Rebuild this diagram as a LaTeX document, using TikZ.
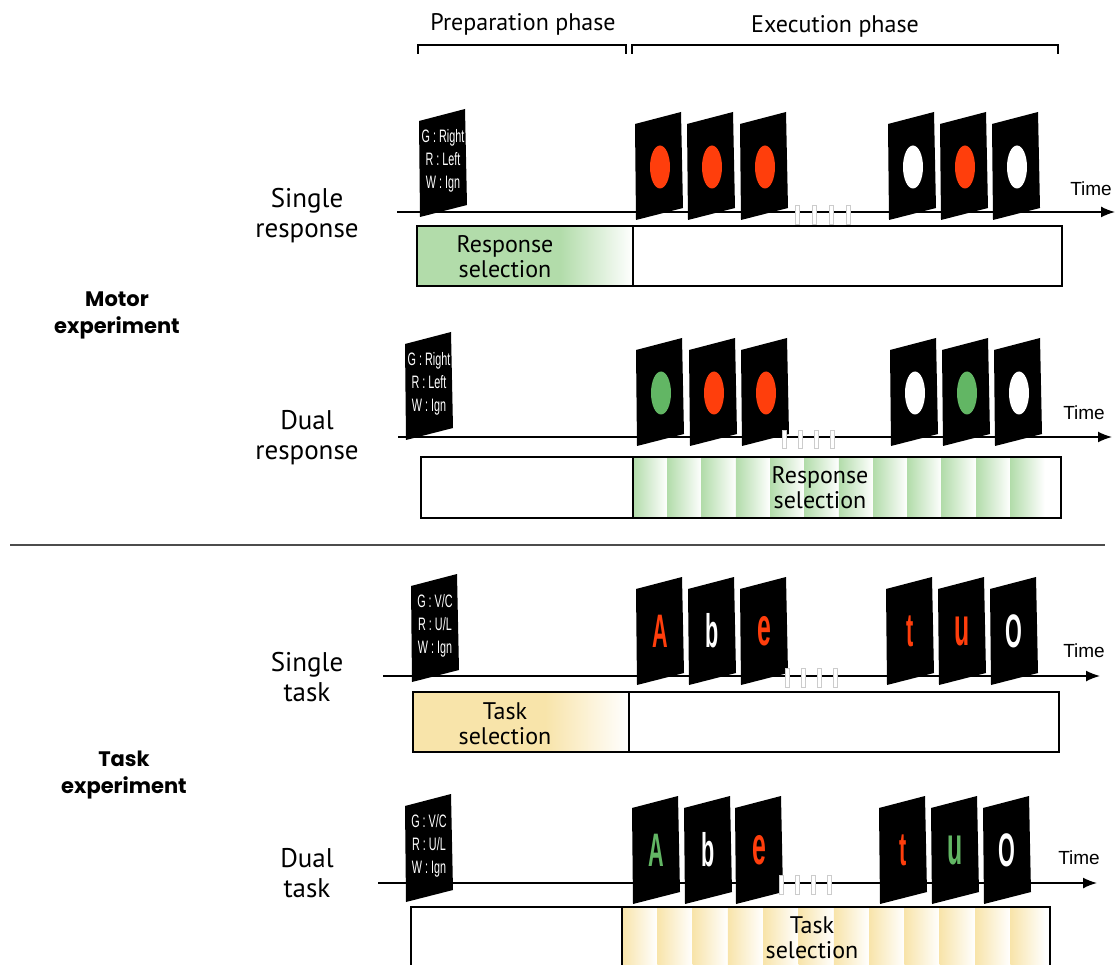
\documentclass[tikz,border=0pt]{standalone}
\usepackage{fontspec}
\setmainfont{PT Sans}
\newfontfamily\gothfont{Poppins}
\newfontfamily\arialfont{Liberation Sans}
\usetikzlibrary{arrows.meta}
\usetikzlibrary{shapes.geometric}

\definecolor{stimred}{RGB}{255,62,12}
\definecolor{stimgreen}{RGB}{98,182,100}
\definecolor{selgreen}{RGB}{178,220,170}
\definecolor{selyellow}{RGB}{248,228,170}

% card = skewed black sheet, top-left corner at (#1,#2)
\newcommand{\cardshape}[2]{\fill[black] (#1,#2) -- ++(46,-12) -- ++(2,96) -- ++(-47,12) -- cycle;}
\newcommand{\squeeze}[1]{\scalebox{.6}[1]{#1}}
\newcommand{\cuecard}[6]{\cardshape{#1}{#2}
  \node[cue] (#3) at (#1+24,#2+40) {\squeeze{#4}\\\squeeze{#5}\\\squeeze{#6}};}
\newcommand{\dotcard}[4]{\cardshape{#1}{#2}
  \node[dot, fill=#4] (#3) at (#1+25,#2+43) {};}
\newcommand{\lettercard}[5]{\cardshape{#1}{#2}
  \node[letter, text=#4] (#3) at (#1+24,#2+42) {\scalebox{.46}[1]{#5}};}
\newcommand{\biglc}[1]{{\fontsize{54}{54}\selectfont #1}}

\begin{document}
\begin{tikzpicture}[x=1pt, y=-1pt,
    dot/.style={ellipse, minimum width=20pt, minimum height=43pt, inner sep=0pt},
    letter/.style={font=\arialfont\bfseries\fontsize{47}{47}\selectfont, inner sep=0pt},
    cue/.style={text=white, font=\arialfont\fontsize{18}{23}\selectfont, align=center, inner sep=0pt},
    axis/.style={-{Latex[length=14pt,width=11pt]}, line width=1.6pt},
    brk/.style={fill=white, draw=black!20, line width=.5pt},
    selbox/.style={draw=black, line width=1.4pt},
    rowlab/.style={font=\fontsize{27}{30}\selectfont, align=center},
    explab/.style={font=\gothfont\bfseries\fontsize{21}{27}\selectfont, align=center},
    timelab/.style={font=\arialfont\fontsize{19}{19}\selectfont},
    phaselab/.style={font=\fontsize{24}{24}\selectfont},
    boxlab/.style={font=\fontsize{24}{25}\selectfont, align=center},
    bracket/.style={line width=2.6pt}]

  \clip (0,0) rectangle (1117,965);

  % phases
  \node[phaselab] (prep) at (523,24) {Preparation phase};
  \node[phaselab] (exec) at (835,26) {Execution phase};
  \draw[bracket] (418,54) -- (418,45) -- (626,45) -- (626,54);
  \draw[bracket] (632,54) -- (632,45) -- (1058,45) -- (1058,54);

  % experiment and condition labels
  \node[explab] (motor) at (117,315) {Motor\\experiment};
  \node[explab] (taskexp) at (124,775) {Task\\experiment};
  \node[rowlab] (single1) at (307,216) {Single\\response};
  \node[rowlab] (dual1) at (307,438) {Dual\\response};
  \node[rowlab] (single2) at (307,677) {Single\\task};
  \node[rowlab] (dual2) at (307,873) {Dual\\task};

  \draw[black!70, line width=1.2pt] (10,545) -- (1105,545);

  % single response
  \coordinate (ax1s) at (397,212);
  \coordinate (ax1e) at (1115,212);
  \draw[axis] (ax1s) -- (ax1e);
  \node[timelab] (time1) at (1091,189) {Time};
  \cuecard{419}{121}{cue1}{G : Right}{R : Left}{W : Ign}
  \dotcard{635}{124}{s1a}{stimred}
  \dotcard{687}{124}{s1b}{stimred}
  \dotcard{740}{124}{s1c}{stimred}
  \dotcard{888}{124}{s1d}{white}
  \dotcard{940}{124}{s1e}{stimred}
  \dotcard{992}{124}{s1f}{white}
  \foreach \bx in {795,812,829,846}
    \draw[brk] (\bx,205) rectangle ++(4,19);
  \fill[selgreen] (417,226) rectangle (560,286);
  \shade[left color=selgreen, right color=white] (560,226) rectangle (633,286);
  \draw[selbox] (417,226) rectangle (633,286);
  \draw[selbox] (633,226) rectangle (1062,286);
  \node[boxlab] (sel1) at (505,257) {Response\\selection};

  % dual response
  \coordinate (ax2s) at (398,437);
  \coordinate (ax2e) at (1112,437);
  \draw[axis] (ax2s) -- (ax2e);
  \node[timelab] (time2) at (1084,413) {Time};
  \cuecard{405}{344}{cue2}{G : Right}{R : Left}{W : Ign}
  \dotcard{636}{350}{s2a}{stimgreen}
  \dotcard{689}{350}{s2b}{stimred}
  \dotcard{741}{350}{s2c}{stimred}
  \dotcard{890}{350}{s2d}{white}
  \dotcard{942}{350}{s2e}{stimgreen}
  \dotcard{994}{350}{s2f}{white}
  \foreach \bx in {782,798,814,830}
    \draw[brk] (\bx,430) rectangle ++(4,18);
  \foreach \i in {0,...,11}
    \shade[left color=selgreen, right color=white] ({633+\i*34.3},457) rectangle ++(34.3,61);
  \draw[selbox] (421,457) rectangle (633,518);
  \draw[selbox] (633,457) rectangle (1061,518);
  \node[boxlab] (sel2) at (820,488) {Response\\selection};

  % single task
  \coordinate (ax3s) at (383,676);
  \coordinate (ax3e) at (1100,676);
  \draw[axis] (ax3s) -- (ax3e);
  \node[timelab] (time3) at (1084,651) {Time};
  \cuecard{411}{586}{cue3}{G : V/C}{R : U/L}{W : Ign}
  \lettercard{636}{589}{s3a}{stimred}{A}
  \lettercard{688}{589}{s3b}{white}{b}
  \lettercard{740}{589}{s3c}{stimred}{\biglc{e}}
  \lettercard{886}{589}{s3d}{stimred}{t}
  \lettercard{938}{589}{s3e}{stimred}{\biglc{u}}
  \lettercard{990}{589}{s3f}{white}{O}
  \foreach \bx in {785,801,817,833}
    \draw[brk] (\bx,668) rectangle ++(4,19);
  \fill[selyellow] (413,692) rectangle (545,752);
  \shade[left color=selyellow, right color=white] (545,692) rectangle (629,752);
  \draw[selbox] (413,692) rectangle (629,752);
  \draw[selbox] (629,692) rectangle (1059,752);
  \node[boxlab] (sel3) at (505,724) {Task\\selection};

  % dual task
  \coordinate (ax4s) at (378,883);
  \coordinate (ax4e) at (1097,883);
  \draw[axis] (ax4s) -- (ax4e);
  \node[timelab] (time4) at (1079,858) {Time};
  \cuecard{405}{806}{cue4}{G : V/C}{R : U/L}{W : Ign}
  \lettercard{632}{808}{s4a}{stimgreen}{A}
  \lettercard{684}{808}{s4b}{white}{b}
  \lettercard{735}{808}{s4c}{stimred}{\biglc{e}}
  \lettercard{879}{808}{s4d}{stimred}{t}
  \lettercard{931}{808}{s4e}{stimgreen}{\biglc{u}}
  \lettercard{983}{808}{s4f}{white}{O}
  \foreach \bx in {779,795,811,827}
    \draw[brk] (\bx,875) rectangle ++(4,19);
  \foreach \i in {0,...,11}
    \shade[left color=selyellow, right color=white] ({622+\i*35.3},907) rectangle ++(35.3,70);
  \draw[selbox] (411,907) rectangle (622,980);
  \draw[selbox] (622,907) rectangle (1050,980);
  \node[boxlab] (sel4) at (812,938) {Task\\selection};
\end{tikzpicture}
\end{document}
